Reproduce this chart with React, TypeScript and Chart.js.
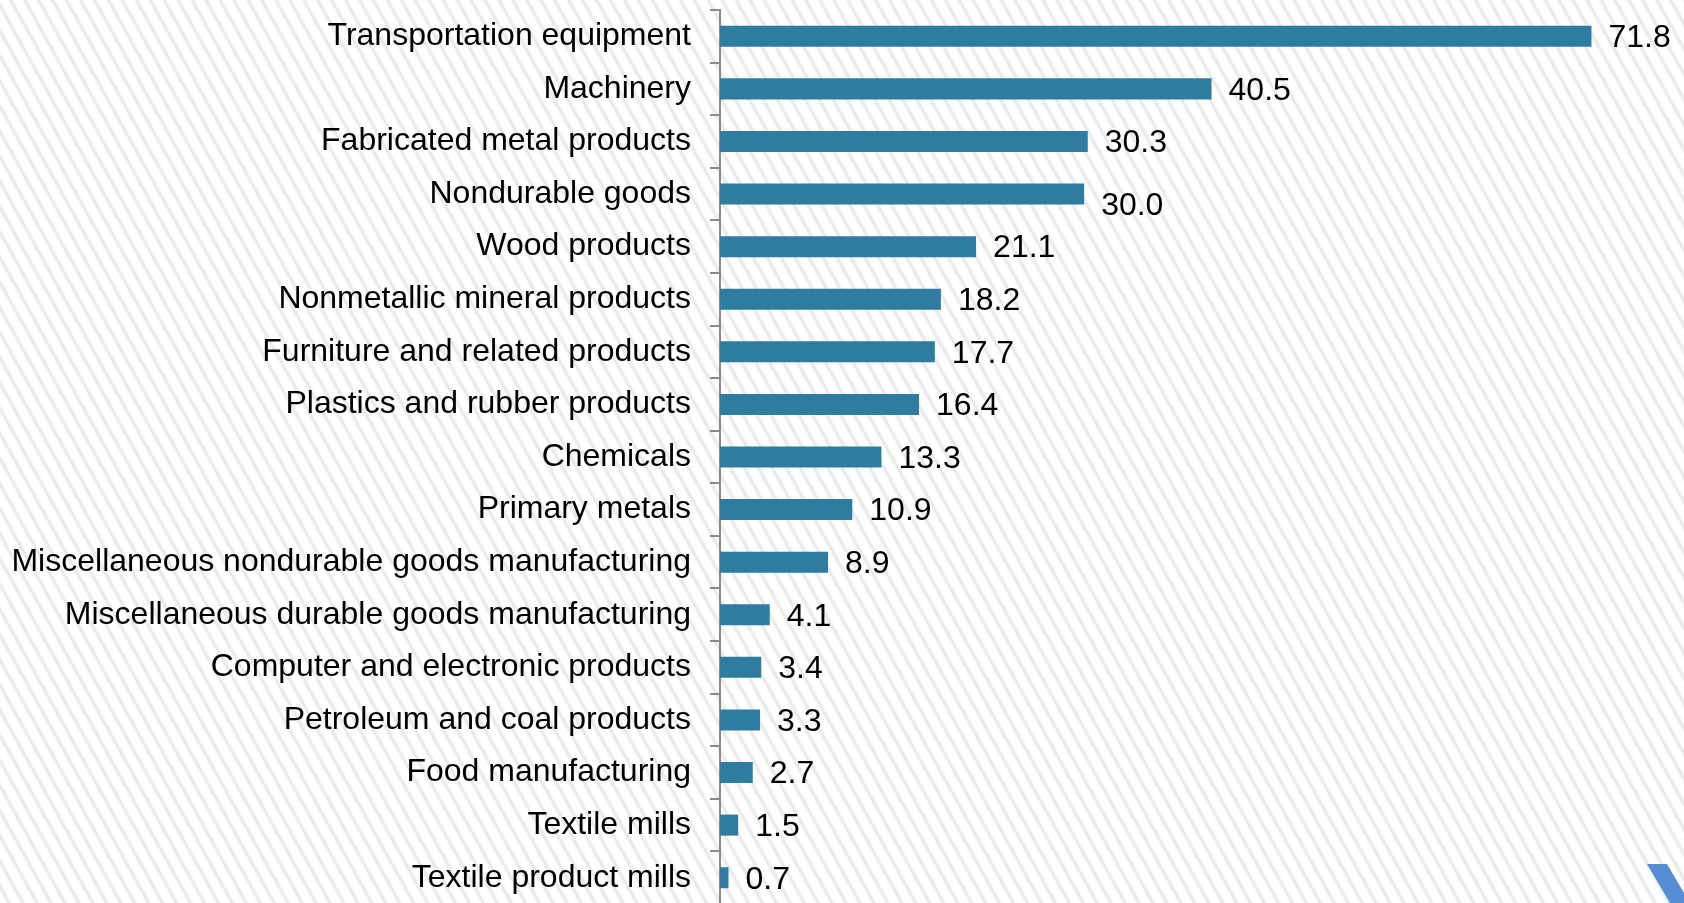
import React, { useEffect, useRef } from "react";
import { Chart, registerables } from "chart.js";

Chart.register(...registerables);

const categories = [
  "Transportation equipment",
  "Machinery",
  "Fabricated metal products",
  "Nondurable goods",
  "Wood products",
  "Nonmetallic mineral products",
  "Furniture and related products",
  "Plastics and rubber products",
  "Chemicals",
  "Primary metals",
  "Miscellaneous nondurable goods manufacturing",
  "Miscellaneous durable goods manufacturing",
  "Computer and electronic products",
  "Petroleum and coal products",
  "Food manufacturing",
  "Textile mills",
  "Textile product mills",
];

const values = [71.8, 40.5, 30.3, 30.0, 21.1, 18.2, 17.7, 16.4, 13.3, 10.9, 8.9, 4.1, 3.4, 3.3, 2.7, 1.5, 0.7];

const FONT = "Arial, 'Liberation Sans', sans-serif";
const BAR_COLOR = "#2E7CA0";
const AXIS_COLOR = "#8A8A8A";

const valueLabels = {
  id: "valueLabels",
  afterDatasetsDraw(chart: any) {
    const ctx = chart.ctx;
    const meta = chart.getDatasetMeta(0);
    const data = chart.data.datasets[0].data as number[];
    const nudge: Record<number, number> = { 3: 10 };
    ctx.save();
    ctx.font = `32px ${FONT}`;
    ctx.fillStyle = "#000";
    ctx.textAlign = "left";
    ctx.textBaseline = "middle";
    meta.data.forEach((bar: any, i: number) => {
      ctx.fillText(data[i].toFixed(1), bar.x + 17, bar.y + 2 + (nudge[i] || 0));
    });
    ctx.restore();
  },
};

export default function App() {
  const ref = useRef<HTMLCanvasElement>(null);
  useEffect(() => {
    if (!ref.current) return;
    const chart = new Chart(ref.current, {
      type: "bar",
      data: {
        labels: categories,
        datasets: [
          {
            data: values,
            backgroundColor: BAR_COLOR,
            barPercentage: 0.8,
            categoryPercentage: 0.5,
          },
        ],
      },
      options: {
        indexAxis: "y",
        animation: false,
        responsive: false,
        devicePixelRatio: 1,
        layout: { padding: { top: 10, left: 0, right: 0, bottom: 0 } },
        plugins: { legend: { display: false }, tooltip: { enabled: false } },
        scales: {
          x: { min: 0, max: 80, display: false },
          y: {
            afterFit: (scale: any) => {
              scale.width = 720;
              scale.paddingTop = 0;
              scale.paddingBottom = 0;
            },
            grid: {
              display: true,
              drawOnChartArea: false,
              drawTicks: true,
              tickLength: 10,
              color: AXIS_COLOR,
              lineWidth: 2,
              offset: true,
            },
            border: { display: true, color: AXIS_COLOR, width: 2 },
            ticks: {
              color: "#000",
              font: { size: 32, family: FONT },
              padding: 19,
              autoSkip: false,
            },
          },
        },
      },
      plugins: [valueLabels],
    });
    return () => chart.destroy();
  }, []);

  return (
    <div
      style={{
        position: "fixed",
        left: 0,
        top: 0,
        width: 1684,
        height: 903,
        overflow: "hidden",
        backgroundColor: "#ffffff",
        backgroundImage:
          "repeating-linear-gradient(61deg, #ffffff 0px, #ffffff 5px, #e6e6e6 8px, #ffffff 11px, #ffffff 12.2px)",
      }}
    >
      <canvas ref={ref} width={1691} height={904} style={{ display: "block" }} />
      <div
        style={{
          position: "absolute",
          left: 1647,
          top: 864,
          width: 50,
          height: 39,
          background: "#558ED5",
          clipPath: "polygon(0px 0px, 20px 0px, 43px 39px, 23px 39px)",
        }}
      />
    </div>
  );
}
